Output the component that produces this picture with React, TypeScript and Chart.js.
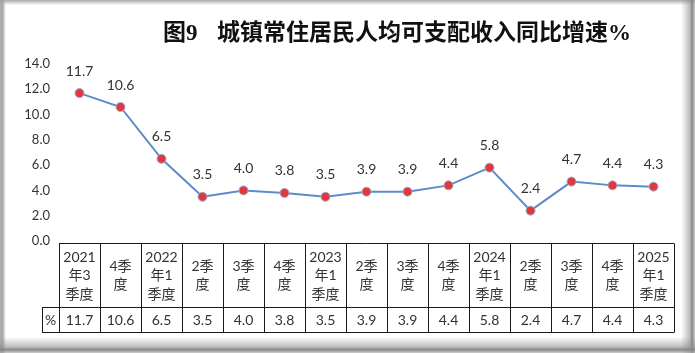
import React, { useEffect, useRef } from "react";
import { Chart, registerables } from "chart.js";
Chart.register(...registerables);

const titleHead = "图9";
const titleBody = "城镇常住居民人均可支配收入同比增速%";
const categories: string[][] = [
  ["2021", "年3", "季度"], ["4季", "度"], ["2022", "年1", "季度"], ["2季", "度"], ["3季", "度"],
  ["4季", "度"], ["2023", "年1", "季度"], ["2季", "度"], ["3季", "度"], ["4季", "度"],
  ["2024", "年1", "季度"], ["2季", "度"], ["3季", "度"], ["4季", "度"], ["2025", "年1", "季度"],
];
const values = [11.7, 10.6, 6.5, 3.5, 4.0, 3.8, 3.5, 3.9, 3.9, 4.4, 5.8, 2.4, 4.7, 4.4, 4.3];
const unitLabel = "%";
const yMin = 0;
const yMax = 14;
const yStep = 2;

const TEXT = "#333333";
const FONT = "Lato, 'Noto Sans CJK SC', sans-serif";

const framePlugin = {
  id: "frame",
  beforeDraw(chart: any) {
    const { ctx, width, height } = chart;
    ctx.save();
    ctx.fillStyle = "#ffffff";
    ctx.fillRect(0, 0, width, height);
    // left edge
    let g = ctx.createLinearGradient(0, 0, 6, 0);
    g.addColorStop(0, "rgba(150,150,150,0.7)");
    g.addColorStop(0.35, "rgba(150,150,150,0.9)");
    g.addColorStop(1, "rgba(150,150,150,0)");
    ctx.fillStyle = g;
    ctx.fillRect(0, 0, 6, height);
    // top edge
    g = ctx.createLinearGradient(0, 0, 0, 5);
    g.addColorStop(0, "rgba(160,160,160,0.9)");
    g.addColorStop(1, "rgba(160,160,160,0)");
    ctx.fillStyle = g;
    ctx.fillRect(0, 0, width, 5);
    // right edge
    g = ctx.createLinearGradient(width - 14, 0, width, 0);
    g.addColorStop(0, "rgba(140,140,140,0)");
    g.addColorStop(0.6, "rgba(140,140,140,0.55)");
    g.addColorStop(0.8, "rgba(130,130,130,0.95)");
    g.addColorStop(1, "rgba(170,170,170,0.6)");
    ctx.fillStyle = g;
    ctx.fillRect(width - 14, 0, 14, height);
    // bottom edge
    g = ctx.createLinearGradient(0, height - 16, 0, height);
    g.addColorStop(0, "rgba(140,140,140,0)");
    g.addColorStop(0.6, "rgba(140,140,140,0.55)");
    g.addColorStop(0.8, "rgba(130,130,130,0.95)");
    g.addColorStop(1, "rgba(170,170,170,0.6)");
    ctx.fillStyle = g;
    ctx.fillRect(0, height - 16, width, 16);
    ctx.restore();
  },
};

const titlePlugin = {
  id: "titleText",
  afterDraw(chart: any) {
    const { ctx } = chart;
    ctx.save();
    ctx.fillStyle = "#111111";
    ctx.textBaseline = "middle";
    ctx.textAlign = "left";
    ctx.font = "bold 23px 'Liberation Serif', 'Noto Sans CJK SC', serif";
    ctx.fillText(titleHead, 163, 34);
    ctx.fillText(titleBody, 217, 34);
    ctx.restore();
  },
};

const labelsPlugin = {
  id: "pointLabels",
  afterDatasetsDraw(chart: any) {
    const { ctx } = chart;
    const meta = chart.getDatasetMeta(0);
    ctx.save();
    ctx.fillStyle = TEXT;
    ctx.font = `14px ${FONT}`;
    ctx.textAlign = "center";
    ctx.textBaseline = "middle";
    meta.data.forEach((pt: any, i: number) => {
      ctx.fillText(values[i].toFixed(1), pt.x, pt.y - 22);
    });
    ctx.restore();
  },
};

const tablePlugin = {
  id: "dataTable",
  afterDraw(chart: any) {
    const { ctx, chartArea } = chart;
    const xs = chart.scales.x;
    const n = categories.length;
    const colW = xs.getPixelForValue(1) - xs.getPixelForValue(0);
    const left = xs.getPixelForValue(0) - colW / 2;
    const right = xs.getPixelForValue(n - 1) + colW / 2;
    const top = Math.round(chartArea.bottom) + 2.5;
    const mid = top + 64;
    const bottom = mid + 25;
    const unitLeft = left - 17;
    ctx.save();
    ctx.strokeStyle = "#1a1a1a";
    ctx.lineWidth = 1;
    ctx.beginPath();
    ctx.moveTo(left, top); ctx.lineTo(right, top);
    ctx.moveTo(unitLeft, mid); ctx.lineTo(right, mid);
    ctx.moveTo(unitLeft, bottom); ctx.lineTo(right, bottom);
    ctx.moveTo(Math.round(unitLeft) + 0.5, mid); ctx.lineTo(Math.round(unitLeft) + 0.5, bottom);
    for (let i = 0; i <= n; i++) {
      const x = Math.round(left + i * colW) + 0.5;
      ctx.moveTo(x, top); ctx.lineTo(x, bottom);
    }
    ctx.stroke();
    ctx.fillStyle = TEXT;
    ctx.font = `14px ${FONT}`;
    ctx.textAlign = "center";
    ctx.textBaseline = "middle";
    const hc = (top + mid) / 2;
    const lh = 18.5;
    categories.forEach((lines, i) => {
      const cx = xs.getPixelForValue(i);
      const start = hc - ((lines.length - 1) * lh) / 2;
      lines.forEach((t, k) => ctx.fillText(t, cx, start + k * lh));
      ctx.fillText(values[i].toFixed(1), cx, (mid + bottom) / 2 + 0.5);
    });
    ctx.fillText(unitLabel, (unitLeft + left) / 2, (mid + bottom) / 2 + 0.5);
    ctx.restore();
  },
};

export default function App() {
  const ref = useRef<HTMLCanvasElement>(null);
  useEffect(() => {
    const canvas = ref.current!;
    const chart = new Chart(canvas, {
      type: "line",
      data: {
        labels: categories.map((c) => c.join("")),
        datasets: [
          {
            data: values,
            borderColor: "#5B8BC9",
            borderWidth: 2,
            pointRadius: 4.5,
            pointBackgroundColor: "#E0383C",
            pointBorderColor: "#9AAFD0",
            pointBorderWidth: 1,
            tension: 0,
          },
        ],
      },
      options: {
        animation: false,
        responsive: false,
        maintainAspectRatio: false,
        events: [],
        layout: { padding: { left: 0, top: 64, right: 21, bottom: 112 } },
        plugins: { legend: { display: false }, tooltip: { enabled: false }, title: { display: false } },
        scales: {
          x: { type: "category", offset: true, display: false },
          y: {
            min: yMin,
            max: yMax,
            afterFit: (s: any) => { s.width = 59; },
            grid: { display: false, drawTicks: false },
            border: { display: false },
            ticks: {
              stepSize: yStep,
              padding: 9,
              color: TEXT,
              font: { family: FONT, size: 13 },
              callback: (v: any) => Number(v).toFixed(1),
            },
          },
        },
      },
      plugins: [framePlugin, labelsPlugin, tablePlugin, titlePlugin],
    });
    return () => chart.destroy();
  }, []);
  return (
    <div style={{ position: "fixed", left: 0, top: 0, width: 695, height: 353 }}>
      <canvas ref={ref} width={695} height={353} style={{ width: 695, height: 353, display: "block" }} />
    </div>
  );
}
